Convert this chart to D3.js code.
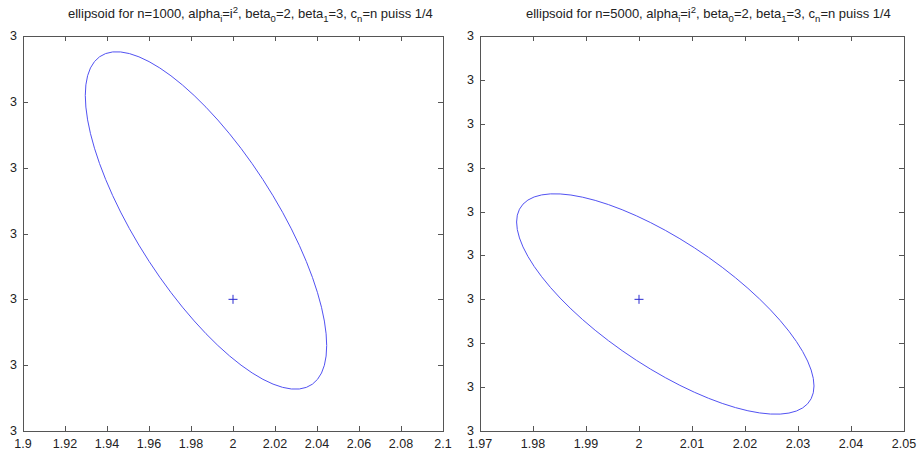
<!DOCTYPE html>
<html><head><meta charset="utf-8">
<script src="https://cdn.jsdelivr.net/npm/d3@7"></script>
<style>body{margin:0;background:#fff}svg{display:block}</style>
</head><body>
<svg id="chart" width="922" height="457"></svg>
<script>
// ---------- data ----------
// left panel (n=1000)
const xTicksL  = [1.9, 1.92, 1.94, 1.96, 1.98, 2, 2.02, 2.04, 2.06, 2.08, 2.1];
const xLabelsL = ["1.9","1.92","1.94","1.96","1.98","2","2.02","2.04","2.06","2.08","2.1"];
const yTicksL  = [2.9999998, 2.9999999, 3.0, 3.0000001, 3.0000002, 3.0000003, 3.0000004];
const yLabelsL = ["3","3","3","3","3","3","3"];
const estimateL = [2.0, 3.0];
// ellipse: [centre x, centre y, half width (x), y shift at x-extreme, half height (y)]
const ellipseL = [1.98714, 3.0000001198, 0.05748, -1.90e-7, 2.563e-7];
const titleNL = "1000";

// right panel (n=5000)
const xTicksR  = [1.97, 1.98, 1.99, 2, 2.01, 2.02, 2.03, 2.04, 2.05];
const xLabelsR = ["1.97","1.98","1.99","2","2.01","2.02","2.03","2.04","2.05"];
const yTicksR  = [2.9999997, 2.9999998, 2.9999999, 3.0, 3.0000001, 3.0000002, 3.0000003, 3.0000004, 3.0000005, 3.0000006];
const yLabelsR = ["3","3","3","3","3","3","3","3","3","3"];
const estimateR = [2.0, 3.0];
const ellipseR = [2.004962, 2.9999999894, 0.028057, -1.868e-7, 2.511e-7];
const titleNR = "5000";

// ---------- drawing ----------
const svg = d3.select("#chart");
const FONT = "'Liberation Sans', Arial, Helvetica, sans-serif";
const AXIS = "#555";
const BLUE = "#5252f2";

const panels = [
  {x0:23, x1:443, y0:36, y1:431, xt:xTicksL, xl:xLabelsL, yt:yTicksL, yl:yLabelsL, est:estimateL, ell:ellipseL, n:titleNL, tx:68},
  {x0:480, x1:904, y0:36, y1:431, xt:xTicksR, xl:xLabelsR, yt:yTicksR, yl:yLabelsR, est:estimateR, ell:ellipseR, n:titleNR, tx:526}
];

panels.forEach(p => {
  const x = d3.scaleLinear().domain([p.xt[0], p.xt[p.xt.length-1]]).range([p.x0, p.x1]);
  const y = d3.scaleLinear().domain([p.yt[0], p.yt[p.yt.length-1]]).range([p.y1, p.y0]);
  const g = svg.append("g");
  const tl = 5;

  // ellipse via affine transform of unit circle
  const [cx, cy, rx, sh, ry] = p.ell;
  const h = x(cx), k = y(cy);
  const a = x(cx + rx) - h;
  const c = y(cy + sh) - k;
  const r = Math.abs(y(cy + ry) - k);
  const d = Math.sqrt(Math.max(r*r - c*c, 0));
  g.append("circle").attr("cx",0).attr("cy",0).attr("r",1)
    .attr("transform", `matrix(${a},${c},0,${d},${h},${k})`)
    .attr("fill","none").attr("stroke",BLUE).attr("stroke-width",1)
    .attr("vector-effect","non-scaling-stroke");

  // estimate marker '+'
  const px = x(p.est[0]), py = y(p.est[1]), m = 4.5;
  g.append("path").attr("d", `M${px-m},${py}H${px+m}M${px},${py-m}V${py+m}`)
    .attr("stroke","#2a2ad0").attr("stroke-width",1).attr("fill","none");

  // box
  g.append("rect").attr("x",p.x0).attr("y",p.y0).attr("width",p.x1-p.x0).attr("height",p.y1-p.y0)
    .attr("fill","none").attr("stroke",AXIS).attr("stroke-width",1).attr("shape-rendering","crispEdges");

  // x ticks (bottom & top, inward)
  p.xt.forEach((v,i) => {
    const xx = Math.round(x(v)) + 0.5;
    g.append("path").attr("d",`M${xx},${p.y1}v${-tl}M${xx},${p.y0}v${tl}`)
      .attr("stroke",AXIS).attr("stroke-width",1);
    g.append("text").attr("x", x(v)).attr("y", p.y1 + 17)
      .attr("text-anchor","middle").attr("font-family",FONT).attr("font-size",12.5).attr("fill","#222")
      .text(p.xl[i]);
  });
  // y ticks (left & right, inward)
  p.yt.forEach((v,i) => {
    const yy = Math.round(y(v)) + 0.5;
    g.append("path").attr("d",`M${p.x0},${yy}h${tl}M${p.x1},${yy}h${-tl}`)
      .attr("stroke",AXIS).attr("stroke-width",1);
    g.append("text").attr("x", p.x0 - 6).attr("y", y(v) + 4)
      .attr("text-anchor","end").attr("font-family",FONT).attr("font-size",12.5).attr("fill","#222")
      .text(p.yl[i]);
  });

  // title with sub/superscripts
  const t = g.append("text").attr("x", p.tx).attr("y", 18)
    .attr("font-family",FONT).attr("font-size",13).attr("fill","#222");
  const parts = [
    ["ellipsoid for n=" + p.n + ", alpha", 0], ["i", 1], ["=i", -1], ["2", -2], [", beta", 2],
    ["0", 1], ["=2, beta", -1], ["1", 1], ["=3, c", -1], ["n", 1], ["=n puiss 1/4", -1]
  ];
  let cur = 0;
  parts.forEach(([s, kind]) => {
    let target, fs;
    if (kind === 1) { target = 4; fs = 9.5; }
    else if (kind === -2) { target = -5; fs = 9.5; }
    else { target = 0; fs = 13; }
    t.append("tspan").attr("dy", target - cur).attr("font-size", fs).text(s);
    cur = target;
  });
});
</script>
</body></html>
